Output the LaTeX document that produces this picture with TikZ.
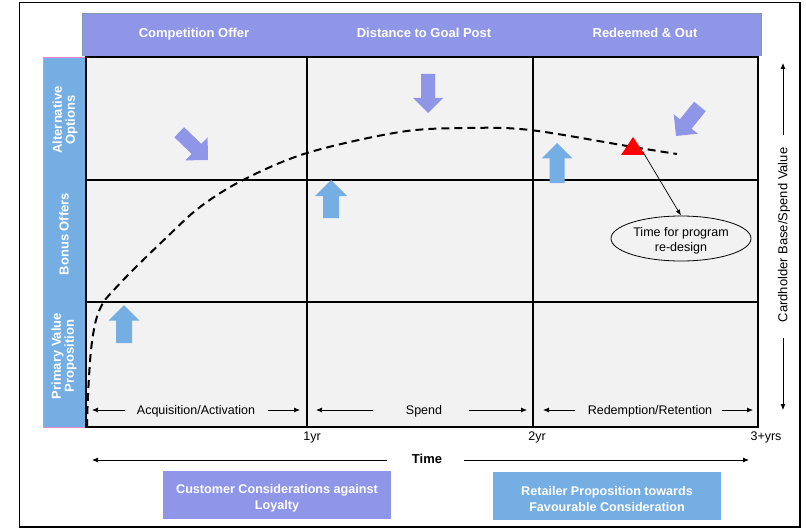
\documentclass[tikz,border=0pt]{standalone}
\usepackage{fontspec}
\setmainfont{Liberation Sans}
\usetikzlibrary{arrows.meta,shapes.geometric}
\definecolor{hdr}{HTML}{8F96E8}
\definecolor{hdredge}{HTML}{7F9CAB}
\definecolor{side}{HTML}{75AEE3}
\definecolor{sideedge}{HTML}{E58AC9}
\definecolor{cellbg}{HTML}{F2F2F2}
\newcommand{\barrow}[7]{%
  \fill[#1, shift={(#2,#3)}, rotate=#4] (0,0) -- (-#6/2,#6/2) -- (-#6/2,#7/2) -- (-#5,#7/2) -- (-#5,-#7/2) -- (-#6/2,-#7/2) -- (-#6/2,-#6/2) -- cycle;}
\tikzset{
  hdrtxt/.style={text=white, font=\fontsize{13}{15}\selectfont\bfseries, anchor=base},
  sidetxt/.style={text=white, font=\fontsize{13}{15}\selectfont\bfseries, rotate=90, align=center},
  lbl/.style={font=\fontsize{12.5}{15}\selectfont},
  axarr/.style={-{Latex[length=6pt,width=5pt]}, line width=0.8pt},
  gridln/.style={line width=1.1pt},
  boxtxt/.style={text=white, font=\fontsize{12.6}{16}\selectfont\bfseries, align=center, inner sep=0pt},
}
\begin{document}
\begin{tikzpicture}[x=1pt,y=-1pt]
\useasboundingbox (0,0) rectangle (806,532);
% outer frame
\draw[line width=1.2pt] (19.5,2.5) rectangle (800,527);
% header band
\fill[hdr] (82,13) rectangle (761,56);
\draw[hdredge, line width=0.8pt] (82,56) -- (82,13) -- (761,13) -- (761,56);
\node[hdrtxt] (h1) at (194,38) {Competition Offer};
\node[hdrtxt] (h2) at (424,38) {Distance to Goal Post};
\node[hdrtxt] (h3) at (645,38) {Redeemed \& Out};
% side column
\fill[side] (43,57) rectangle (86,427);
\draw[sideedge, line width=0.8pt] (43,57) rectangle (86,427);
\node[sidetxt] (s1) at (65,120) {Alternative\\[-2pt]Options};
\node[sidetxt] (s2) at (64,234) {Bonus Offers};
\node[sidetxt] (s3) at (64,356) {Primary Value\\[-2pt]Proposition};
% grid
\fill[cellbg] (86,57) rectangle (758,427);
\draw[gridln] (86,57) rectangle (758,427);
\draw[gridln] (307,57) -- (307,427);
\draw[gridln] (533,57) -- (533,427);
\draw[gridln] (86,180) -- (758,180);
\draw[gridln] (86,302) -- (758,302);
% block arrows
\barrow{hdr}{208}{160}{-44}{40}{32}{14}
\barrow{hdr}{428}{113}{-90}{39}{30}{14}
\barrow{hdr}{676}{136}{-129}{38}{31}{15}
\barrow{side}{331}{180}{90}{38}{32}{16}
\barrow{side}{557}{143}{90}{40}{31}{15}
\barrow{side}{124}{305}{90}{38}{31}{16}
% dashed curve
\draw[line width=2pt, dash pattern=on 8pt off 5pt] plot[smooth, tension=0.55] coordinates {
 (87,427) (88,395) (91,350) (96,320) (103,303) (112,292) (133,270) (167,237) (200,207) (243,180) (307,153) (400,132) (467,128) (530,130) (633,147) (677,154)};
% red triangle
\fill[red] (633,137) -- (645,155) -- (621,155) -- cycle;
\coordinate (tri) at (643,152);
% ellipse
\node[ellipse, draw, fill=cellbg, line width=0.8pt, minimum width=140pt, minimum height=45pt, inner sep=0pt] (ell) at (681,238.5) {};
\node[align=center, inner sep=0pt, font=\fontsize{12.5}{15}\selectfont] (elltxt) at (681,241) {Time for program\\re-design};
\draw[-{Latex[length=6pt,width=4.5pt]}, line width=0.7pt] (tri) -- (ell.north);
% stage labels
\node[lbl] (acq) at (196,411.5) {Acquisition/Activation};
\coordinate (a1) at (92,410); \coordinate (a1t) at (125,410);
\coordinate (a2) at (300,410); \coordinate (a2t) at (268,410);
\draw[axarr] (a1t) -- (a1);
\draw[axarr] (a2t) -- (a2);
\node[lbl] (spd) at (424,411.5) {Spend};
\coordinate (b1) at (316,410); \coordinate (b1t) at (373,410);
\coordinate (b2) at (527,410); \coordinate (b2t) at (469,410);
\draw[axarr] (b1t) -- (b1);
\draw[axarr] (b2t) -- (b2);
\node[lbl] (red) at (650,411.5) {Redemption/Retention};
\coordinate (c1) at (543,410); \coordinate (c1t) at (575,410);
\coordinate (c2) at (753,410); \coordinate (c2t) at (722,410);
\draw[axarr] (c1t) -- (c1);
\draw[axarr] (c2t) -- (c2);
% year labels
\node[lbl] (y1) at (312,437) {1yr};
\node[lbl] (y2) at (537,437) {2yr};
\node[lbl] (y3) at (766,437) {3+yrs};
% time axis
\node[font=\fontsize{13}{15}\selectfont\bfseries] (time) at (427,459) {Time};
\coordinate (tl) at (92,460); \coordinate (tlt) at (387,460);
\coordinate (tr) at (749,460); \coordinate (trt) at (464,460);
\draw[axarr] (tlt) -- (tl);
\draw[axarr] (trt) -- (tr);
% right axis
\node[rotate=90, font=\fontsize{13}{15}\selectfont] (vax) at (784,235) {Cardholder Base/Spend Value};
\coordinate (vt) at (783,63); \coordinate (vtt) at (783,135);
\coordinate (vb) at (783,410); \coordinate (vbt) at (783,338);
\draw[axarr] (vtt) -- (vt);
\draw[axarr] (vbt) -- (vb);
% bottom boxes
\fill[hdr] (163,471) rectangle (391,519);
\node[boxtxt] (bx1) at (277,498.5) {Customer Considerations against\\Loyalty};
\fill[side] (493,472) rectangle (721,520);
\node[boxtxt] (bx2) at (607,499) {Retailer Proposition towards\\Favourable Consideration};
\end{tikzpicture}
\end{document}
